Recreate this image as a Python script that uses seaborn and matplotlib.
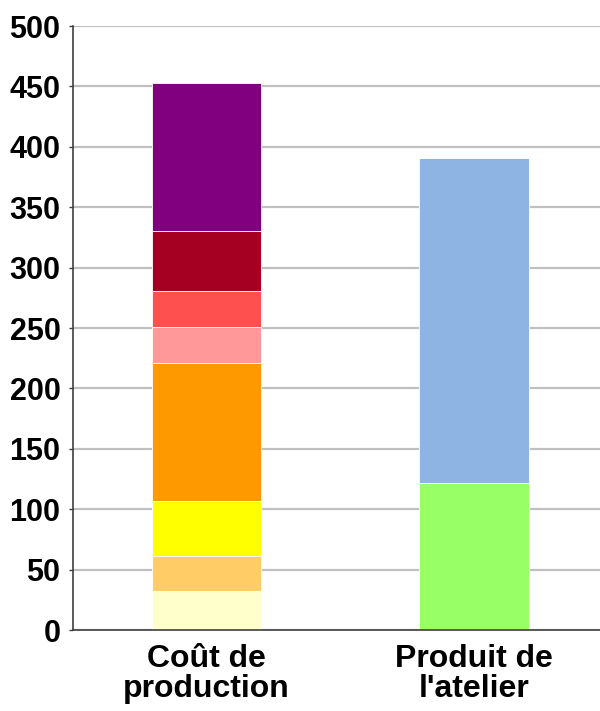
import matplotlib
matplotlib.use('Agg')
import matplotlib.pyplot as plt
import seaborn as sns

# Data
categories = ['Coût de\nproduction', "Produit de\nl'atelier"]

cout_values = [32.5, 29, 45.5, 114, 30, 29.5, 49.5, 122.5]
cout_colors = ['#FFFFCC', '#FFCC66', '#FFFF00', '#FF9900',
               '#FF9999', '#FF5050', '#A50021', '#800080']

produit_values = [122, 269]
produit_colors = ['#99FF66', '#8EB4E3']

yticks = [0, 50, 100, 150, 200, 250, 300, 350, 400, 450, 500]

sns.set_style('white')
plt.rcParams['font.family'] = ['Liberation Sans', 'DejaVu Sans']

fig = plt.figure(figsize=(6, 7.11), dpi=100)
ax = fig.add_axes([73 / 600, 81 / 711, 1 - 73 / 600, 604 / 711])

ax.yaxis.grid(True, color='#C0C0C0', linewidth=1.6)
ax.set_axisbelow(True)

# stacked segments, one barplot call per segment
for cat, values, colors in [(categories[0], cout_values, cout_colors),
                            (categories[1], produit_values, produit_colors)]:
    bottom = 0
    for v, c in zip(values, colors):
        sns.barplot(x=[cat], y=[v], order=categories, bottom=bottom,
                    color=c, saturation=1, width=0.41, errorbar=None,
                    edgecolor='white', linewidth=0.6, ax=ax)
        bottom += v

ax.set_ylim(0, 500)
ax.set_xlim(-0.5, 1.472)
ax.set_yticks(yticks)
ax.set_xlabel('')
ax.set_ylabel('')

for lab in ax.get_yticklabels():
    lab.set_fontweight('bold')
    lab.set_fontsize(22)
    lab.set_color('black')
ax.set_xticks([0, 1])
ax.set_xticklabels(categories, fontsize=23, fontweight='bold',
                   linespacing=1.0, color='black')
ax.tick_params(axis='x', length=0, pad=10)
ax.tick_params(axis='y', length=3, width=1, color='#404040', pad=6, left=True)
ax.set_xticks([0.5], minor=True)
ax.tick_params(axis='x', which='minor', length=5, direction='in', color='#404040')

for side in ['top', 'right']:
    ax.spines[side].set_visible(False)
ax.spines['left'].set_color('#404040')
ax.spines['bottom'].set_color('#404040')
ax.spines['left'].set_linewidth(1.2)
ax.spines['bottom'].set_linewidth(1.2)

fig.savefig('out.png', dpi=100)
